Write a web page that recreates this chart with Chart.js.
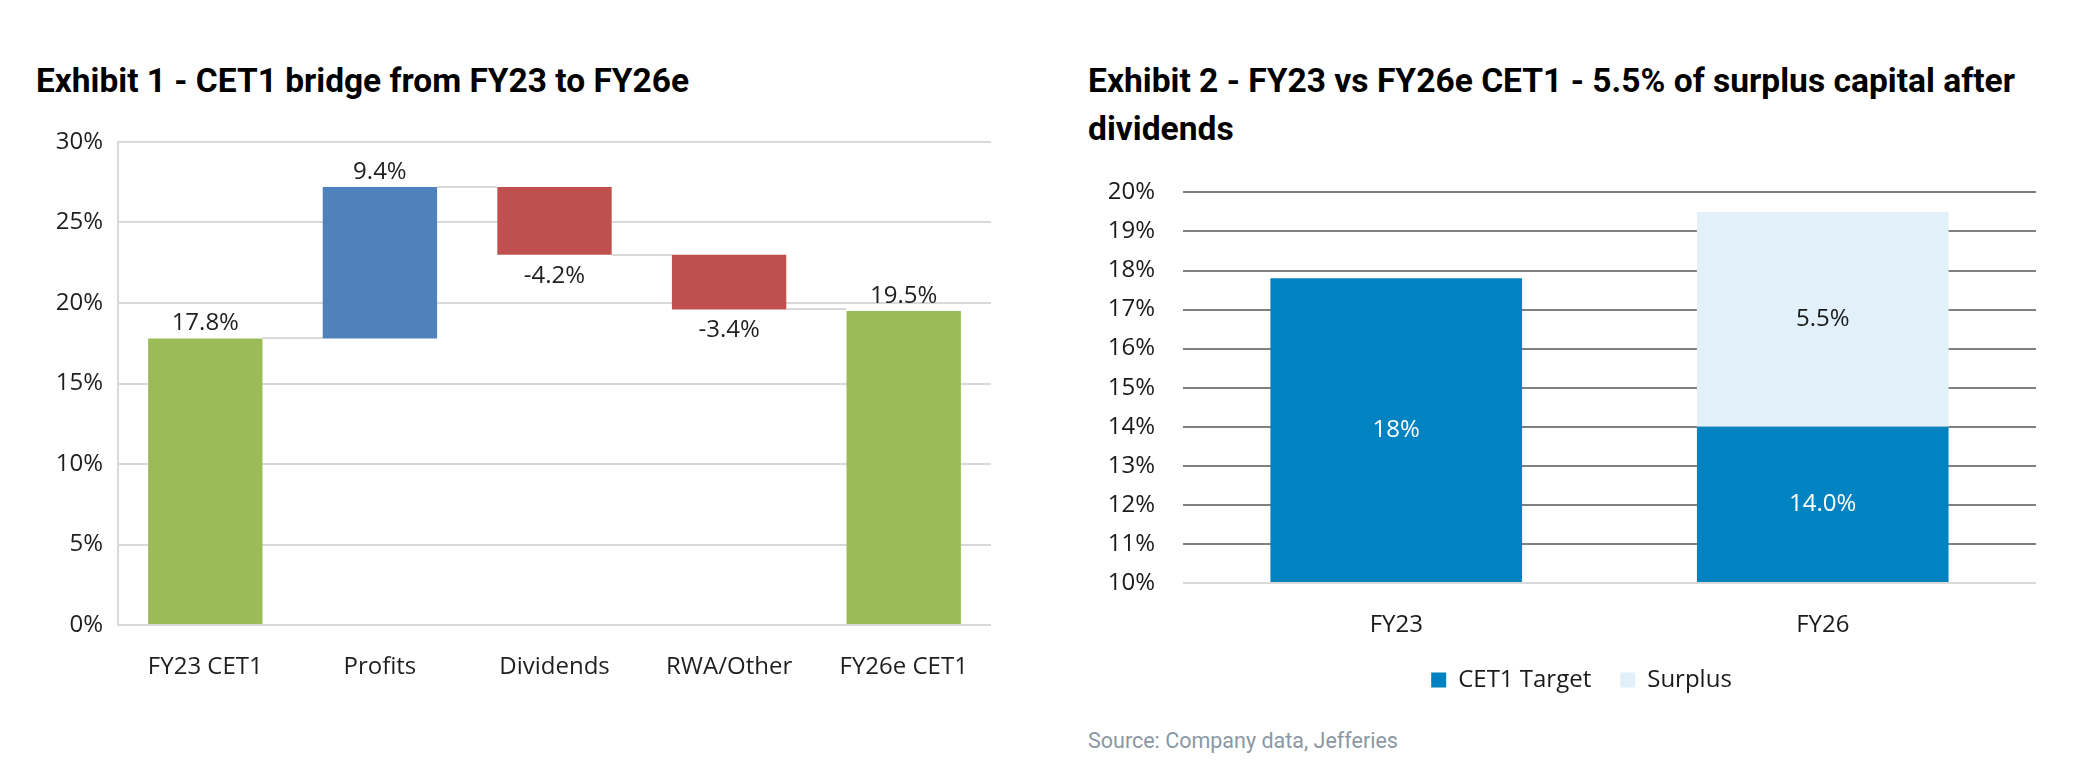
<!DOCTYPE html>
<html><head><meta charset="utf-8">
<script src="https://cdn.jsdelivr.net/npm/chart.js@4.4.1/dist/chart.umd.min.js"></script>
<style>
html,body{margin:0;padding:0;background:#fff;width:2091px;height:767px;overflow:hidden;position:relative;}
.title{position:absolute;font-family:Roboto,sans-serif;font-weight:700;font-size:34px;color:#000;line-height:48px;white-space:nowrap;}
.title span{display:inline-block;transform-origin:0 50%;}
#t1{left:36px;top:56px;}
#t2{left:1088px;top:56px;}
.cv{position:absolute;}
#c1wrap{left:0;top:100px;width:1040px;height:620px;}
#c2wrap{left:1060px;top:150px;width:1031px;height:570px;}
#src{position:absolute;left:1088px;top:729px;font-family:Roboto,sans-serif;font-size:21.5px;line-height:24px;color:#8b97a3;white-space:nowrap;}
</style></head>
<body>
<div class="title" id="t1"><span data-w="653">Exhibit 1 - CET1 bridge from FY23 to FY26e</span></div>
<div class="title" id="t2"><span data-w="927">Exhibit 2 - FY23 vs FY26e CET1 - 5.5% of surplus capital after</span><br><span>dividends</span></div>
<div class="cv" id="c1wrap"><canvas id="c1" width="1040" height="620"></canvas></div>
<div class="cv" id="c2wrap"><canvas id="c2" width="1031" height="570"></canvas></div>
<div id="src">Source: Company data, Jefferies</div>
<script>
// ---- Exhibit 1 data ----
const bridgeCategories = ['FY23 CET1', 'Profits', 'Dividends', 'RWA/Other', 'FY26e CET1'];
const bridgeStart = [0, 17.8, 27.2, 23.0, 0];
const bridgeEnd = [17.8, 27.2, 23.0, 19.6, 19.5];
const bridgeLabels = ['17.8%', '9.4%', '-4.2%', '-3.4%', '19.5%'];
const bridgeColors = ['#9bbb59', '#4f81bd', '#c0504d', '#c0504d', '#9bbb59'];
const bridgeYTicks = [0, 5, 10, 15, 20, 25, 30];

// ---- Exhibit 2 data ----
const cetCategories = ['FY23', 'FY26'];
const cetTarget = [17.8, 14.0];
const cetSurplus = [0, 5.5];
const cetTargetLabels = ['18%', '14.0%'];
const cetSurplusLabels = ['', '5.5%'];
const cetYTicks = [10, 11, 12, 13, 14, 15, 16, 17, 18, 19, 20];

// scale titles horizontally to match reference width
document.querySelectorAll('.title span[data-w]').forEach(s => {
  const w = s.getBoundingClientRect().width;
  s.style.transform = 'scaleX(' + (parseFloat(s.dataset.w) / w) + ')';
});
const t2spans = document.querySelectorAll('#t2 span');
t2spans[1].style.transform = t2spans[0].style.transform;

const FONT = '"Open Sans", "Noto Sans", sans-serif';
Chart.defaults.font.family = FONT;
Chart.defaults.color = '#1f1f1f';

const pct = v => v + '%';

const connectorPlugin = {
  id: 'connectors',
  beforeDatasetsDraw(chart) {
    const ctx = chart.ctx;
    const bars = chart.getDatasetMeta(0).data;
    const y = chart.scales.y;
    ctx.save();
    ctx.strokeStyle = '#d9d9d9';
    ctx.lineWidth = 2;
    for (let i = 0; i < bars.length - 1; i++) {
      const py = Math.round(y.getPixelForValue(bridgeEnd[i]));
      const x1 = bars[i].x + bars[i].width / 2;
      const x2 = bars[i + 1].x - bars[i + 1].width / 2;
      ctx.beginPath();
      ctx.moveTo(x1, py);
      ctx.lineTo(x2, py);
      ctx.stroke();
    }
    ctx.restore();
  }
};

const bridgeLabelPlugin = {
  id: 'bridgeLabels',
  afterDatasetsDraw(chart) {
    const ctx = chart.ctx;
    const bars = chart.getDatasetMeta(0).data;
    ctx.save();
    ctx.font = '24px ' + FONT;
    ctx.fillStyle = '#1f1f1f';
    ctx.textAlign = 'center';
    ctx.textBaseline = 'alphabetic';
    bars.forEach((bar, i) => {
      const top = Math.min(bar.y, bar.base);
      const bottom = Math.max(bar.y, bar.base);
      if (bridgeEnd[i] < bridgeStart[i]) {
        ctx.fillText(bridgeLabels[i], bar.x, bottom + 28);
      } else {
        ctx.fillText(bridgeLabels[i], bar.x, top - 8);
      }
    });
    ctx.restore();
  }
};

new Chart(document.getElementById('c1'), {
  type: 'bar',
  data: {
    labels: bridgeCategories,
    datasets: [{
      data: bridgeCategories.map((c, i) => [bridgeStart[i], bridgeEnd[i]]),
      backgroundColor: bridgeColors,
      borderWidth: 0,
      categoryPercentage: 1,
      barPercentage: 0.655
    }]
  },
  options: {
    responsive: false,
    animation: false,
    devicePixelRatio: 1,
    layout: { padding: { left: 0, right: 49, top: 42, bottom: 35 } },
    plugins: { legend: { display: false }, tooltip: { enabled: false } },
    scales: {
      x: {
        grid: { display: false },
        border: { display: false },
        ticks: { font: { size: 24 }, color: '#1f1f1f', padding: 20, maxRotation: 0 },
        afterFit(s) { s.height = 60; }
      },
      y: {
        min: 0, max: 30,
        afterBuildTicks(s) { s.ticks = bridgeYTicks.map(v => ({ value: v })); },
        grid: { color: '#d9d9d9', lineWidth: 2, drawTicks: false },
        border: { display: true, color: '#d9d9d9', width: 2 },
        ticks: { font: { size: 24 }, color: '#1f1f1f', padding: 15, callback: pct },
        afterFit(s) { s.width = 118; }
      }
    }
  },
  plugins: [connectorPlugin, bridgeLabelPlugin]
});

const stackLabelPlugin = {
  id: 'stackLabels',
  afterDatasetsDraw(chart) {
    const ctx = chart.ctx;
    const sets = [
      { labels: cetTargetLabels, color: '#ffffff' },
      { labels: cetSurplusLabels, color: '#1a1a1a' }
    ];
    ctx.save();
    ctx.font = '24px ' + FONT;
    ctx.textAlign = 'center';
    ctx.textBaseline = 'middle';
    sets.forEach((s, di) => {
      chart.getDatasetMeta(di).data.forEach((bar, i) => {
        if (!s.labels[i]) return;
        ctx.fillStyle = s.color;
        ctx.fillText(s.labels[i], bar.x, (bar.y + bar.base) / 2);
      });
    });
    ctx.restore();
  }
};

// shift the legend so it sits centred where the reference has it
const legendShiftPlugin = {
  id: 'legendShift',
  afterLayout(chart) {
    if (chart.legend) { chart.legend.left += 33.5; chart.legend.right += 33.5; }
  }
};

new Chart(document.getElementById('c2'), {
  type: 'bar',
  data: {
    labels: cetCategories,
    datasets: [
      { label: 'CET1 Target', data: cetTarget, backgroundColor: '#0083c0', base: cetYTicks[0],
        borderWidth: 0, categoryPercentage: 1, barPercentage: 0.59 },
      { label: 'Surplus', data: cetSurplus, backgroundColor: '#e2f1f9',
        borderWidth: 0, categoryPercentage: 1, barPercentage: 0.59 }
    ]
  },
  options: {
    responsive: false,
    animation: false,
    devicePixelRatio: 1,
    layout: { padding: { left: 0, right: 55, top: 40, bottom: 18 } },
    plugins: {
      tooltip: { enabled: false },
      legend: {
        position: 'bottom',
        labels: { boxWidth: 15, boxHeight: 15, padding: 29, font: { size: 24 }, color: '#1a1a1a' }
      }
    },
    scales: {
      x: {
        stacked: true,
        grid: { display: false },
        border: { display: false },
        ticks: { font: { size: 24 }, color: '#1a1a1a', padding: 20 },
        afterFit(s) { s.height = 56; }
      },
      y: {
        stacked: true,
        min: 10, max: 20,
        afterBuildTicks(s) { s.ticks = cetYTicks.map(v => ({ value: v })); },
        grid: {
          color: c => (c.tick && c.tick.value === 10 ? '#d9d9d9' : '#808080'),
          lineWidth: 2, drawTicks: false
        },
        border: { display: false },
        ticks: { font: { size: 24 }, color: '#1a1a1a', padding: 28, callback: pct },
        afterFit(s) { s.width = 123; }
      }
    }
  },
  plugins: [stackLabelPlugin, legendShiftPlugin]
});
</script>
</body></html>
